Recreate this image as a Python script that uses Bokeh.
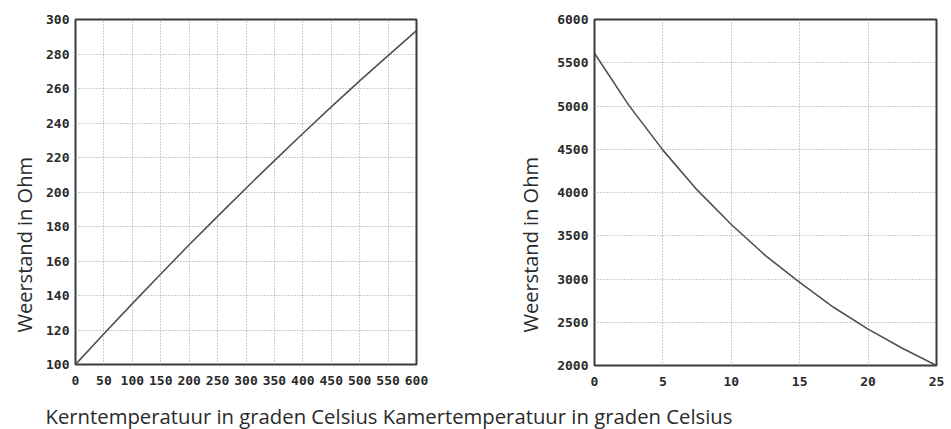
from bokeh.plotting import figure
from bokeh.layouts import column, row
from bokeh.models import Range1d, LinearAxis, FixedTicker, Label, Title
from bokeh.embed import file_html
from bokeh.resources import INLINE

# ---- data ----
core_temp = [0, 50, 100, 150, 200, 250, 300, 350, 400, 450, 500, 550, 600]
core_res = [100, 117.8, 135.3, 152.5, 169.4, 185.9, 202.2, 218.2, 233.9, 249.3, 264.4, 279.1, 293.6]
core_xticks = [0, 50, 100, 150, 200, 250, 300, 350, 400, 450, 500, 550, 600]
core_yticks = [100, 120, 140, 160, 180, 200, 220, 240, 260, 280, 300]

room_temp = [0, 2.5, 5, 7.5, 10, 12.5, 15, 17.5, 20, 22.5, 25]
room_res = [5610, 5010, 4490, 4030, 3630, 3270, 2960, 2670, 2420, 2200, 2000]
room_xticks = [0, 5, 10, 15, 20, 25]
room_yticks = [2000, 2500, 3000, 3500, 4000, 4500, 5000, 5500, 6000]

y_title = "Weerstand in Ohm"
x_title_left = "Kerntemperatuur in graden Celsius"
x_title_right = "Kamertemperatuur in graden Celsius"

TICK_FONT = "DejaVu Sans Mono"
LABEL_FONT = "Open Sans"
TEXT_COL = "#2a2a2a"
GRID_COL = "#9a9a9a"
LINE_COL = "#505050"


def make_chart(xs, ys, xr, yr, xticks, yticks, width, height, fw, fh,
               bl, br, bt, title_offset, title_standoff):
    p = figure(width=width, height=height, frame_width=fw, frame_height=fh,
               x_range=Range1d(*xr), y_range=Range1d(*yr),
               x_axis_location=None, y_axis_location=None,
               toolbar_location=None, output_backend="svg",
               min_border_left=bl, min_border_right=br, min_border_top=bt,
               min_border_bottom=height - bt - fh)
    p.background_fill_color = "white"
    p.border_fill_color = "white"
    p.outline_line_color = "#3a3a3a"
    p.outline_line_width = 2

    # grids
    p.xgrid.ticker = FixedTicker(ticks=xticks)
    p.ygrid.ticker = FixedTicker(ticks=yticks)
    for g in (p.xgrid, p.ygrid):
        g.grid_line_color = GRID_COL
        g.grid_line_dash = "1 2"
        g.grid_line_width = 1

    ya = LinearAxis(ticker=FixedTicker(ticks=yticks))
    xa = LinearAxis(ticker=FixedTicker(ticks=xticks))
    for a in (xa, ya):
        a.axis_line_color = None
        a.major_tick_line_color = None
        a.minor_tick_line_color = None
        a.major_tick_in = 0
        a.major_tick_out = 0
        a.minor_tick_in = 0
        a.minor_tick_out = 0
        a.major_label_text_font = TICK_FONT
        a.major_label_text_font_style = "bold"
        a.major_label_text_font_size = "13px"
        a.major_label_text_color = TEXT_COL
    ya.major_label_standoff = 6
    xa.major_label_standoff = 11
    p.add_layout(ya, "left")
    p.add_layout(xa, "below")

    # rotated y title, placed off-centre (lower) like in the print
    p.add_layout(Title(text=y_title, align="left", offset=title_offset,
                       standoff=title_standoff, text_font=LABEL_FONT,
                       text_font_style="normal", text_font_size="20px",
                       text_color=TEXT_COL), "left")

    p.line(xs, ys, line_color=LINE_COL, line_width=1.6)
    return p


H = 392
left = make_chart(core_temp, core_res, (0, 600), (100, 300), core_xticks, core_yticks,
                  478, H, 341, 345, 75, 62, 19, 32, 11)
right = make_chart(room_temp, room_res, (0, 25), (2000, 6000), room_xticks, room_yticks,
                   473, H, 342, 346, 116, 15, 19, 33, 22)

BH = 37
bottom = figure(width=951, height=BH, x_range=Range1d(0, 951), y_range=Range1d(0, BH),
                x_axis_location=None, y_axis_location=None, toolbar_location=None,
                output_backend="svg", min_border=0)
bottom.outline_line_color = None
bottom.grid.visible = False
bottom.add_layout(Label(x=45, y=14, text=x_title_left + " " + x_title_right,
                        text_font=LABEL_FONT, text_font_size="20.3px",
                        text_color=TEXT_COL, text_baseline="middle"))

layout = column(row(left, right, spacing=0), bottom, spacing=0)
open("out.html", "w").write(file_html(layout, INLINE))
